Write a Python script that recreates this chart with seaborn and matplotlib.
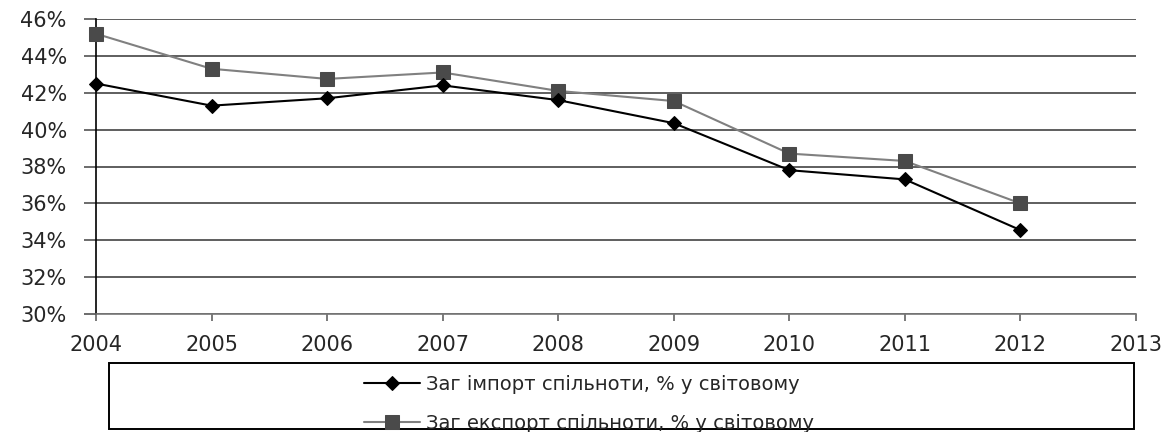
import numpy as np
import pandas as pd
import matplotlib
matplotlib.use("Agg")
import matplotlib.pyplot as plt
from matplotlib.ticker import PercentFormatter
from matplotlib.patches import Rectangle
import seaborn as sns

years = [2004, 2005, 2006, 2007, 2008, 2009, 2010, 2011, 2012]
import_share = [42.5, 41.3, 41.7, 42.4, 41.6, 40.35, 37.8, 37.3, 34.55]
export_share = [45.2, 43.3, 42.75, 43.1, 42.1, 41.55, 38.7, 38.3, 36.0]
label_import = "Заг імпорт спільноти, % у світовому"
label_export = "Заг експорт спільноти, % у світовому"
xticks = list(range(2004, 2014))
yticks = list(range(30, 47, 2))

sns.set_style("white")
plt.rcParams['font.family'] = ['DejaVu Sans']

fig = plt.figure(figsize=(11.76, 4.32), dpi=100)
ax = fig.add_axes([96/1176, 1-314/432, (1136-96)/1176, (314-19)/432])

df_imp = pd.DataFrame({"year": years, "value": import_share})
df_exp = pd.DataFrame({"year": years, "value": export_share})

sns.lineplot(data=df_imp, x="year", y="value", ax=ax, color="black", lw=1.5,
             marker="D", markersize=7, markeredgecolor="black", markerfacecolor="black",
             label=label_import, zorder=4, clip_on=False)
sns.lineplot(data=df_exp, x="year", y="value", ax=ax, color="#808080", lw=1.5,
             marker="s", markersize=9.5, markeredgecolor="#4a4a4a", markerfacecolor="#4a4a4a",
             label=label_export, zorder=3, clip_on=False)

ax.set_xlim(2004, 2013)
ax.set_ylim(30, 46)
ax.set_xticks(xticks)
ax.set_yticks(yticks)
ax.yaxis.set_major_formatter(PercentFormatter(decimals=0))
ax.set_xlabel("")
ax.set_ylabel("")
ax.grid(axis="y", color="#333333", lw=1.1)
ax.grid(axis="x", visible=False)
for s in ["top", "right"]:
    ax.spines[s].set_visible(False)
ax.spines["left"].set_color("black")
ax.spines["left"].set_linewidth(1.2)
ax.spines["bottom"].set_color("#777777")
ax.spines["bottom"].set_linewidth(1.2)
ax.tick_params(axis="x", direction="out", length=5, width=1.1, color="#555555",
               labelsize=15, pad=10, bottom=True)
ax.tick_params(axis="y", direction="out", length=9, width=1.1, color="#444444",
               labelsize=15, pad=12, left=True)

ax.get_legend().remove()
handles, labels = ax.get_legend_handles_labels()
fig.patches.append(Rectangle((109/1176, 1-429/432), (1134-109)/1176, (429-363)/432,
                             transform=fig.transFigure, fill=False, edgecolor="black",
                             lw=1.4, zorder=0))
fig.legend(handles, labels, loc="center left", bbox_to_anchor=(364/1176, 1-404/432),
           frameon=False, fontsize=14, handlelength=2.9, handletextpad=0.3,
           labelspacing=1.05, borderpad=0, borderaxespad=0)

fig.savefig("out.png", dpi=100, facecolor="white")
